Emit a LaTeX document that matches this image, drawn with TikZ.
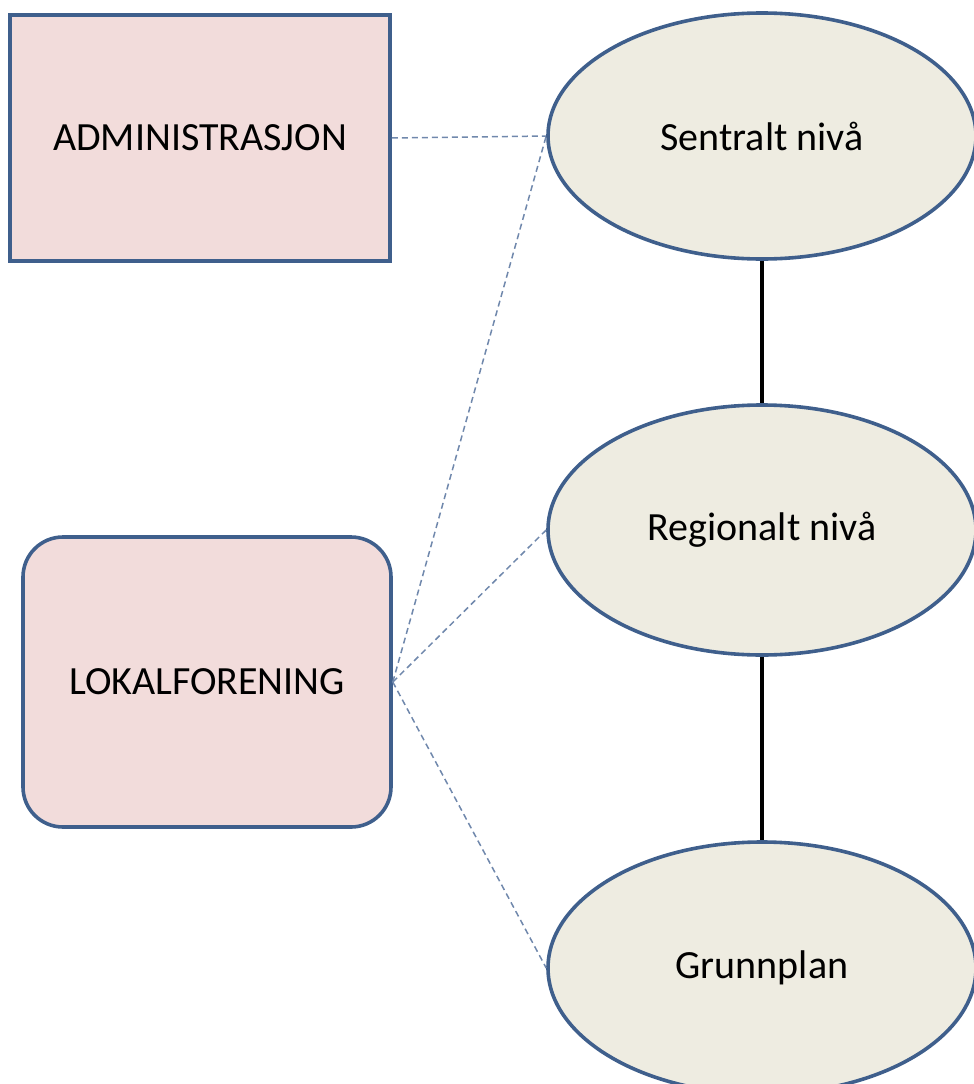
\documentclass[tikz,border=0pt]{standalone}
\usepackage{fontspec}
\setmainfont{Carlito}
\usetikzlibrary{shapes.geometric}
\definecolor{boxfill}{HTML}{F2DCDB}
\definecolor{ellfill}{HTML}{EEECE1}
\definecolor{edge}{HTML}{3F5F8C}
\definecolor{dashc}{HTML}{7088AC}
\begin{document}
\begin{tikzpicture}[x=1pt,y=-1pt,
  sqbox/.style={draw=edge,line width=3.6pt,fill=boxfill,minimum width=380pt,minimum height=246pt,inner sep=0pt,font=\fontsize{40}{48}\selectfont},
  rbox/.style={sqbox,rounded corners=40pt,minimum width=368pt,minimum height=290pt},
  ell/.style={ellipse,draw=edge,line width=3.6pt,fill=ellfill,minimum width=428pt,minimum height=246pt,inner sep=0pt,font=\fontsize{40}{48}\selectfont},
  dline/.style={dashc,line width=1.5pt,dash pattern=on 6pt off 4pt},
  sline/.style={black,line width=3.6pt}]
\useasboundingbox (0,0) rectangle (974,1084);
\begin{scope}
\clip (0,0) rectangle (974,1084);
\node[sqbox] (adm) at (200,138) {ADMINISTRASJON};
\node[rbox] (lok) at (207,682) {LOKALFORENING};
\node[ell] (sen) at (762,136) {Sentralt nivå};
\node[ell,minimum height=250pt] (reg) at (762,530) {Regionalt nivå};
\node[ell,minimum height=252pt] (gru) at (762,968) {Grunnplan};
\draw[sline] (sen.south) -- (reg.north);
\draw[sline] (reg.south) -- (gru.north);
\draw[dline] (adm.east) -- (sen.west);
\draw[dline] (lok.east) -- (sen.west);
\draw[dline] (lok.east) -- (reg.west);
\draw[dline] (lok.east) -- (gru.west);
\end{scope}
\end{tikzpicture}
\end{document}
